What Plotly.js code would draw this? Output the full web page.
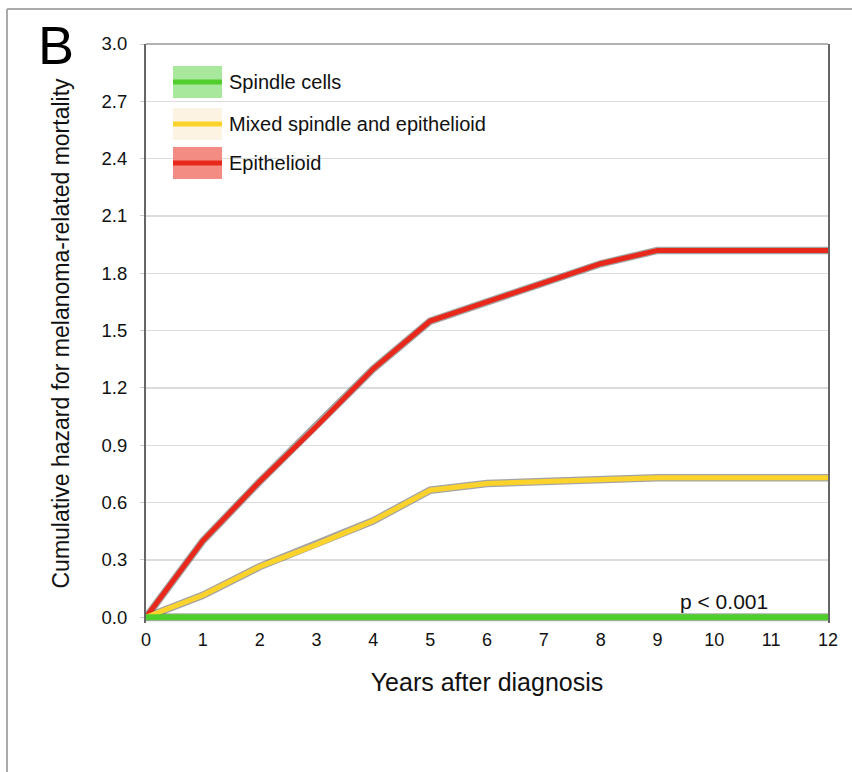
<!DOCTYPE html>
<html>
<head>
<meta charset="utf-8">
<script src="https://cdn.plot.ly/plotly-3.0.1.min.js"></script>
<style>html,body{margin:0;padding:0;background:#fff;}#chart{width:852px;height:772px;}</style>
</head>
<body>
<div id="chart"></div>
<script>
// ---- data ----
var years = [0,1,2,3,4,5,6,7,8,9,10,11,12];
var spindle = [0,0,0,0,0,0,0,0,0,0,0,0,0];
var mixed = [0,0.115,0.265,0.38,0.505,0.665,0.70,0.71,0.72,0.73,0.73,0.73,0.73];
var epithelioid = [0,0.40,0.71,1.00,1.30,1.55,1.65,1.75,1.85,1.92,1.92,1.92,1.92];
var seriesNames = ["Spindle cells","Mixed spindle and epithelioid","Epithelioid"];
var yTicks = [0,0.3,0.6,0.9,1.2,1.5,1.8,2.1,2.4,2.7,3.0];
var yTickText = ["0.0","0.3","0.6","0.9","1.2","1.5","1.8","2.1","2.4","2.7","3.0"];
var xTicks = years;
var pText = "p < 0.001";

// ---- styles ----
var W = 852, H = 772;
var M = {l:146, r:24, t:44, b:149};
var lineColors = ["#4fce2c","#fcd32a","#e8281a"];
var swatchFills = ["#a8e89c","#fdf3e2","#f38c82"];
var font = "Liberation Sans, Arial, Helvetica, sans-serif";
function px(x){ return (x - M.l) / (W - M.l - M.r); }
function py(y){ return (H - M.b - y) / (H - M.t - M.b); }

var traces = [];
// shadow traces
[epithelioid, mixed].forEach(function(s){
  traces.push({x:years, y:s, type:'scatter', mode:'lines', showlegend:false, hoverinfo:'skip',
    line:{color:'rgba(90,90,90,0.55)', width:7.5}});
});
traces.push({x:years, y:spindle, type:'scatter', mode:'lines', showlegend:false, hoverinfo:'skip',
  line:{color:'rgba(90,90,90,0.5)', width:8}});
traces.push({x:years, y:epithelioid, name:seriesNames[2], type:'scatter', mode:'lines', line:{color:lineColors[2], width:5}});
traces.push({x:years, y:mixed, name:seriesNames[1], type:'scatter', mode:'lines', line:{color:lineColors[1], width:5}});
traces.push({x:years, y:spindle, name:seriesNames[0], type:'scatter', mode:'lines', line:{color:lineColors[0], width:6}});

var shapes = [
  // outer frame
  {type:'line', xref:'paper', yref:'paper', x0:px(7), x1:px(860), y0:py(9), y1:py(9), line:{color:'#aaaaaa', width:2}},
  {type:'line', xref:'paper', yref:'paper', x0:px(7), x1:px(7), y0:py(9), y1:py(780), line:{color:'#aaaaaa', width:2}},
  // plot top border
  {type:'line', xref:'paper', yref:'paper', x0:0, x1:1, y0:py(44), y1:py(44), line:{color:'#999999', width:1.5}, layer:'above'}
];
var annotations = [
  {xref:'paper', yref:'paper', x:px(56), y:py(45), text:'B', showarrow:false, xanchor:'center', yanchor:'middle', font:{family:font, size:54, color:'#000'}},
  {xref:'paper', yref:'paper', x:px(724), y:py(601), text:pText, showarrow:false, xanchor:'center', yanchor:'middle', font:{family:font, size:21, color:'#111'}}
];
var rows = [{c:82},{c:124},{c:163}];
for (var i=0;i<3;i++){
  var c = rows[i].c;
  shapes.push({type:'rect', xref:'paper', yref:'paper', x0:px(173), x1:px(222), y0:py(c+16), y1:py(c-16), fillcolor:swatchFills[i], line:{width:0}, layer:'above'});
  shapes.push({type:'line', xref:'paper', yref:'paper', x0:px(173), x1:px(222), y0:py(c), y1:py(c), line:{color:lineColors[i], width:5}, layer:'above'});
  annotations.push({xref:'paper', yref:'paper', x:px(227), y:py(c), text:seriesNames[i], showarrow:false, xanchor:'left', yanchor:'middle', font:{family:font, size:20, color:'#111'}});
}

var layout = {
  width:W, height:H, margin:M, paper_bgcolor:'#fff', plot_bgcolor:'#fff',
  showlegend:false,
  font:{family:font, color:'#111'},
  xaxis:{range:[0,12], tickvals:xTicks, ticks:'', showgrid:false, zeroline:false, showline:false,
    ticklabelstandoff:4,
    tickfont:{family:font, size:18, color:'#111'},
    title:{text:'Years after diagnosis', font:{family:font, size:25, color:'#111'}, standoff:24}},
  yaxis:{range:[-0.03,3.0], tickvals:yTicks, ticktext:yTickText, ticks:'outside', ticklen:4, tickcolor:'#cccccc',
    ticklabelstandoff:9,
    showgrid:true, gridcolor:'#dcdcdc', gridwidth:1.2, zeroline:false,
    showline:true, mirror:true, linecolor:'#666666', linewidth:2,
    tickfont:{family:font, size:18.5, color:'#111'},
    title:{text:'Cumulative hazard for melanoma-related mortality', font:{family:font, size:23, color:'#111'}, standoff:26}},
  shapes:shapes, annotations:annotations
};
Plotly.newPlot('chart', traces, layout, {displayModeBar:false, staticPlot:true});
</script>
</body>
</html>
